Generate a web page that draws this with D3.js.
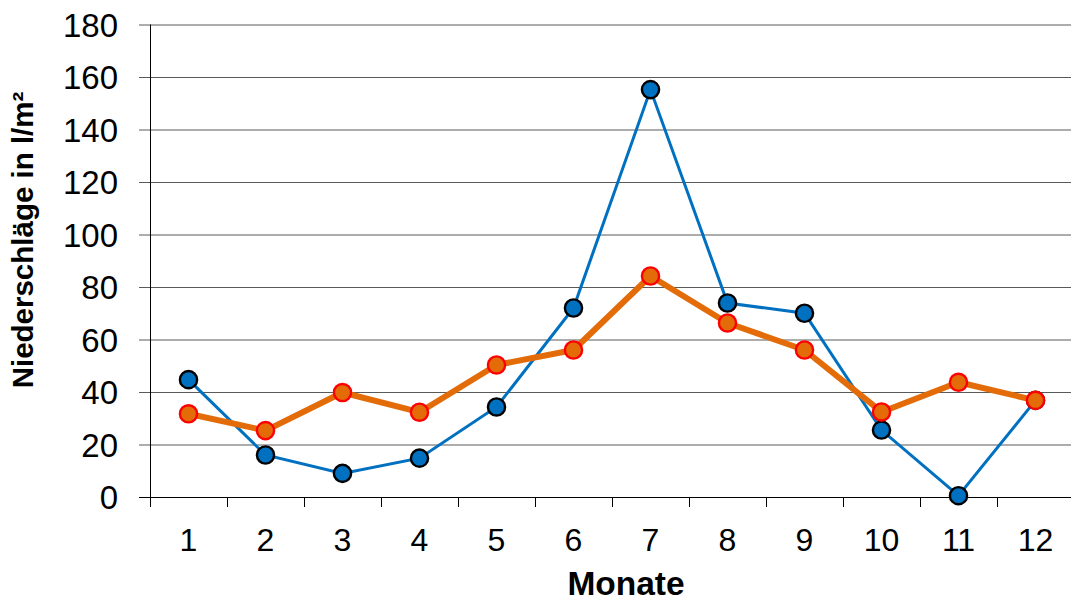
<!DOCTYPE html>
<html>
<head>
<meta charset="utf-8">
<script src="https://cdn.jsdelivr.net/npm/d3@7"></script>
<style>
  html, body { margin: 0; padding: 0; background: #fff; }
  svg { display: block; font-family: "Liberation Sans", Arial, sans-serif; }
</style>
</head>
<body>
<svg id="chart" width="1071" height="604"></svg>
<script>
// Monthly precipitation (l/m²)
const months = ["1", "2", "3", "4", "5", "6", "7", "8", "9", "10", "11", "12"];
const seriesBlue = [44.7, 16, 9, 14.8, 34.3, 72, 155.2, 73.9, 70, 25.5, 0.5, 36.8];
const seriesOrange = [31.7, 25.3, 39.8, 32.3, 50.3, 56, 84.2, 66.3, 56, 32.4, 43.7, 36.8];
const yTicks = [0, 20, 40, 60, 80, 100, 120, 140, 160, 180];
const xTitle = "Monate";
const yTitle = "Niederschläge in l/m²";

const svg = d3.select("#chart");
const plot = { left: 150, right: 1074, top: 24.5, bottom: 497 };

const x = d3.scaleBand().domain(months).range([plot.left, plot.right]).padding(0);
const y = d3.scaleLinear().domain([0, 180]).range([plot.bottom, plot.top]);

// horizontal gridlines with short outer ticks on the left
const yAxis = d3.axisLeft(y).tickValues(yTicks).tickSize(-(plot.right - plot.left)).tickSizeOuter(0).tickPadding(32);
const gy = svg.append("g").attr("transform", `translate(${plot.left},0)`).call(yAxis);
gy.select(".domain").remove();
gy.selectAll(".tick line")
  .attr("x1", -11)
  .attr("stroke", "#5a5a5a")
  .attr("stroke-width", 1);
gy.selectAll(".tick text")
  .attr("font-size", 33)
  .attr("fill", "#000")
  .attr("dy", "0.36em");

// vertical axis line
svg.append("line")
  .attr("x1", plot.left + 0.5).attr("x2", plot.left + 0.5)
  .attr("y1", plot.top).attr("y2", plot.bottom + 10)
  .attr("stroke", "#000").attr("stroke-width", 1);

// x axis: baseline, boundary ticks and month labels
svg.append("line")
  .attr("x1", plot.left - 11).attr("x2", plot.right)
  .attr("y1", plot.bottom + 0.5).attr("y2", plot.bottom + 0.5)
  .attr("stroke", "#000").attr("stroke-width", 1);

svg.append("g").selectAll("line")
  .data(months.slice(1))
  .join("line")
  .attr("x1", d => Math.round(x(d)) + 0.5)
  .attr("x2", d => Math.round(x(d)) + 0.5)
  .attr("y1", plot.bottom).attr("y2", plot.bottom + 10)
  .attr("stroke", "#000").attr("stroke-width", 1);

svg.append("g").selectAll("text")
  .data(months)
  .join("text")
  .attr("x", d => x(d) + x.bandwidth() / 2)
  .attr("y", 551)
  .attr("text-anchor", "middle")
  .attr("font-size", 32)
  .attr("fill", "#000")
  .text(d => d);

// axis titles
svg.append("text")
  .attr("x", 626).attr("y", 595)
  .attr("text-anchor", "middle")
  .attr("font-size", 33.5)
  .attr("font-weight", "bold")
  .text(xTitle);

svg.append("text")
  .attr("transform", "translate(33,240) rotate(-90)")
  .attr("text-anchor", "middle")
  .attr("font-size", 29.5)
  .attr("font-weight", "bold")
  .text(yTitle);

const cx = d => x(d) + x.bandwidth() / 2;
const line = d3.line().x(d => cx(d.m)).y(d => y(d.v));

const blue = months.map((m, i) => ({ m, v: seriesBlue[i] }));
const orange = months.map((m, i) => ({ m, v: seriesOrange[i] }));

// blue series
svg.append("path")
  .datum(blue)
  .attr("d", line)
  .attr("fill", "none")
  .attr("stroke", "#0070C0")
  .attr("stroke-width", 3);

svg.append("g").selectAll("circle")
  .data(blue)
  .join("circle")
  .attr("cx", d => cx(d.m))
  .attr("cy", d => y(d.v))
  .attr("r", 8.6)
  .attr("fill", "#0070C0")
  .attr("stroke", "#000")
  .attr("stroke-width", 2.4);

// orange series
svg.append("path")
  .datum(orange)
  .attr("d", line)
  .attr("fill", "none")
  .attr("stroke", "#E36C09")
  .attr("stroke-width", 6)
  .attr("stroke-linejoin", "round");

svg.append("g").selectAll("circle")
  .data(orange)
  .join("circle")
  .attr("cx", d => cx(d.m))
  .attr("cy", d => y(d.v))
  .attr("r", 8.6)
  .attr("fill", "#E36C09")
  .attr("stroke", "#FF0000")
  .attr("stroke-width", 2.4);
</script>
</body>
</html>
